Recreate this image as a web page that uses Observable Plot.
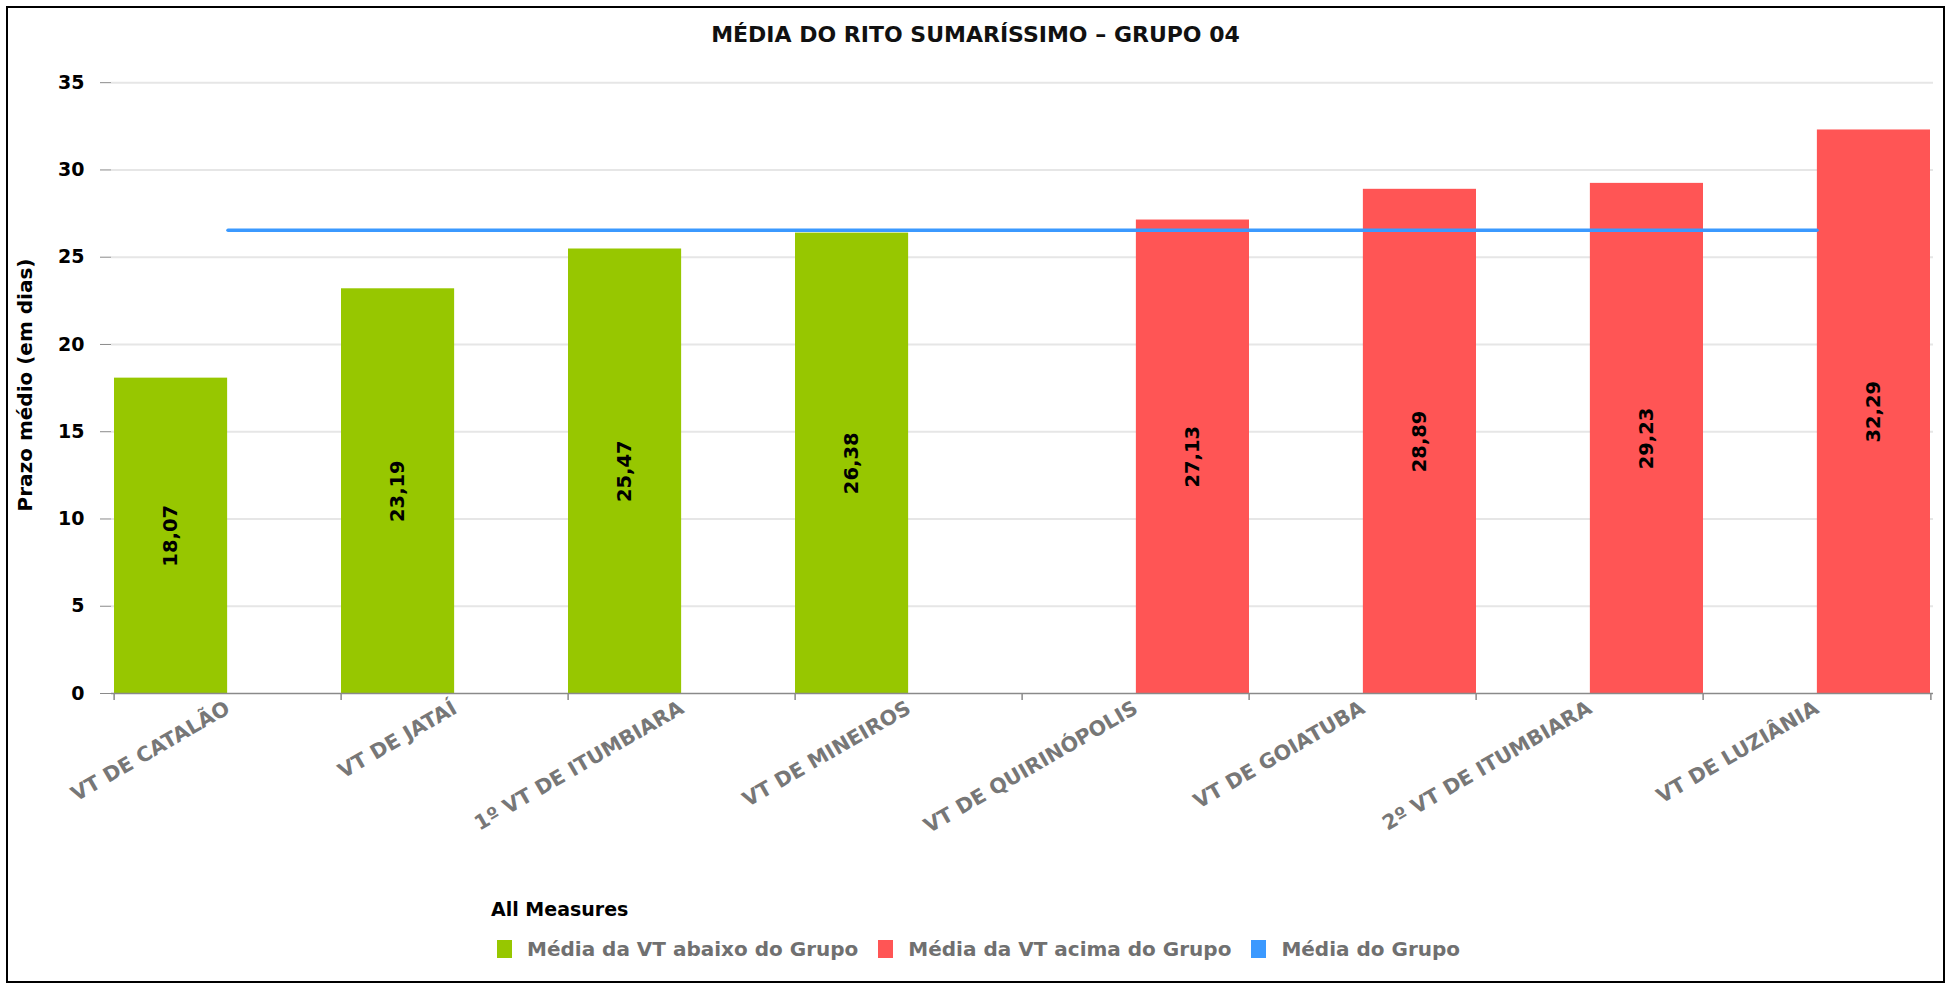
<!DOCTYPE html>
<html><head><meta charset="utf-8">
<script src="https://cdn.jsdelivr.net/npm/d3@7"></script>
<script src="https://cdn.jsdelivr.net/npm/@observablehq/plot@0.6"></script>
<style>
body{margin:0;background:#fff;font-family:"DejaVu Sans",sans-serif;}
#frame{position:absolute;left:6px;top:6px;width:1935px;height:973px;border:2px solid #000;background:#fff;}
#title{height:44px;box-sizing:border-box;padding-top:8px;line-height:37px;text-align:center;font-weight:bold;font-size:22px;color:#111;}
#chart svg{display:block;}
#legend{position:absolute;left:483px;top:888px;}
#legend .lt{font-weight:bold;font-size:19px;color:#000;height:26px;line-height:26px;}
#legend .items{display:flex;align-items:center;margin-top:14px;margin-left:6px;height:26px;}
#legend .it{display:flex;align-items:center;margin-right:20px;color:#707070;font-weight:bold;font-size:20px;}
#legend .sw{width:15px;height:18px;margin-right:15px;}
</style></head><body>
<div id="frame">
  <div id="title">MÉDIA DO RITO SUMARÍSSIMO – GRUPO 04</div>
  <div id="chart"></div>
  <div id="legend"></div>
</div>
<script>
const categories = ["VT DE CATALÃO","VT DE JATAÍ","1º VT DE ITUMBIARA","VT DE MINEIROS","VT DE QUIRINÓPOLIS","VT DE GOIATUBA","2º VT DE ITUMBIARA","VT DE LUZIÂNIA"];
const abaixo = [18.07, 23.19, 25.47, 26.38, null, null, null, null];
const acima = [null, null, null, null, 27.13, 28.89, 29.23, 32.29];
const mediaGrupo = [26.54, 26.54, 26.54, 26.54, 26.54, 26.54, 26.54, 26.54];
const seriesNames = ["Média da VT abaixo do Grupo", "Média da VT acima do Grupo", "Média do Grupo"];
const seriesColors = ["#97c700", "#ff5555", "#3b99ff"];
const yTicks = [0, 5, 10, 15, 20, 25, 30, 35];
const legendTitle = "All Measures";
const yLabel = "Prazo médio (em dias)";

const W = 1935, H = 828, ML = 103, MR = 10, MT = 4, MB = 187;
const bw = (W - ML - MR) / categories.length;
const rows = (arr) => categories.map((c, i) => ({c, v: arr[i]})).filter(d => d.v != null);
const rAbaixo = rows(abaixo), rAcima = rows(acima), rMedia = rows(mediaGrupo);
const fmt = v => v.toFixed(2).replace(".", ",");
const font = '"DejaVu Sans",sans-serif';

const chart = Plot.plot({
  width: W, height: H, marginLeft: ML, marginRight: MR, marginTop: MT, marginBottom: MB,
  style: {fontFamily: font, fontSize: "19px", background: "#fff", overflow: "visible"},
  x: {type: "band", domain: categories, padding: 0, label: null},
  y: {domain: [0, 36.5], label: null},
  marks: [
    Plot.gridY(yTicks.slice(1), {stroke: "#e6e6e6", strokeOpacity: 1, strokeWidth: 2}),
    Plot.barY(rAbaixo, {x: "c", y: "v", fill: seriesColors[0], insetRight: bw / 2}),
    Plot.barY(rAcima, {x: "c", y: "v", fill: seriesColors[1], insetLeft: bw / 2}),
    Plot.ruleY([0], {stroke: "#8a8a8a", strokeWidth: 1.5}),
    Plot.ruleX(categories, {x: d => d, y1: 0, y2: 0, insetBottom: -7, dx: -bw / 2, stroke: "#8a8a8a", strokeWidth: 1.5}),
    Plot.ruleX(categories.slice(-1), {x: d => d, y1: 0, y2: 0, insetBottom: -7, dx: bw / 2, stroke: "#8a8a8a", strokeWidth: 1.5}),
    Plot.lineY(rMedia, {x: "c", y: "v", stroke: seriesColors[2], strokeWidth: 3.5}),
    Plot.text(rAbaixo, {x: "c", y: d => d.v / 2, text: d => fmt(d.v), rotate: -90, dx: -bw / 4, fontWeight: "bold", fill: "#000", fontSize: 19.5}),
    Plot.text(rAcima, {x: "c", y: d => d.v / 2, text: d => fmt(d.v), rotate: -90, dx: bw / 4, fontWeight: "bold", fill: "#000", fontSize: 19.5}),
    Plot.axisY({ticks: yTicks, tickSize: 11, tickPadding: 16, stroke: "#8a8a8a", fill: "#000", fontWeight: "bold", fontSize: 19, label: null}),
    Plot.text([yLabel], {frameAnchor: "left", textAnchor: "middle", rotate: -90, dx: -86, dy: 10, fontWeight: "bold", fill: "#000", fontSize: 20}),
    Plot.axisX({tickRotate: -30, tickSize: 0, tickPadding: 13, fill: "#777", fontWeight: "bold", fontSize: 20.5, label: null})
  ]
});
document.getElementById("chart").appendChild(chart);

const lg = document.getElementById("legend");
const t = document.createElement("div"); t.className = "lt"; t.textContent = legendTitle; lg.appendChild(t);
const items = document.createElement("div"); items.className = "items"; lg.appendChild(items);
seriesNames.forEach((n, i) => {
  const it = document.createElement("div"); it.className = "it";
  const sw = document.createElement("div"); sw.className = "sw"; sw.style.background = seriesColors[i];
  const tx = document.createElement("span"); tx.textContent = n;
  it.appendChild(sw); it.appendChild(tx); items.appendChild(it);
});
</script>
</body></html>
